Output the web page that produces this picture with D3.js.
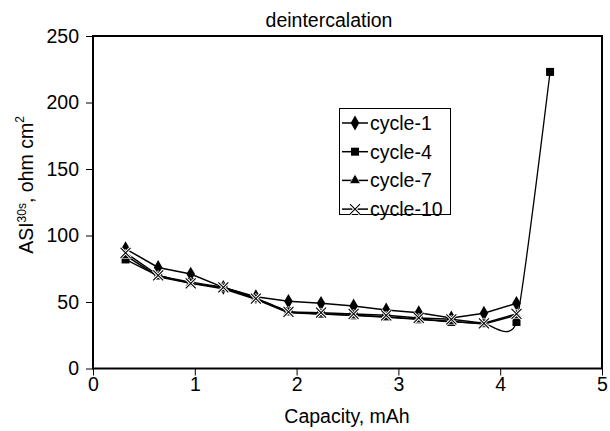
<!DOCTYPE html>
<html>
<head>
<meta charset="utf-8">
<script src="https://cdn.jsdelivr.net/npm/d3@7"></script>
<style>
body { margin: 0; background: #fff; }
text { font-family: Arial, "Liberation Sans", sans-serif; fill: #000; }
</style>
</head>
<body>
<div id="vis"></div>
<script>
var width = 610,
    height = 431;

// capacity (mAh) of each measurement
var capacity = [0.32, 0.64, 0.96, 1.28, 1.6, 1.92, 2.24, 2.56, 2.88, 3.2, 3.52, 3.84, 4.16];
var capacity4 = [0.32, 0.64, 0.96, 1.28, 1.6, 1.92, 2.24, 2.56, 2.88, 3.2, 3.52, 3.84, 4.16, 4.49];

// ASI values, ohm cm2
var cycle1 = [90, 76, 71, 61, 54, 50.5, 49, 47, 44, 42, 38, 41.5, 49];
var cycle4 = [82, 70, 65, 61, 53, 43, 41, 40, 39, 37, 35, 34, 35, 223];
var cycle7 = [85, 69, 64, 60, 52, 42, 41, 40, 38.5, 37, 35.5, 33.5, 40];
var cycle10 = [87, 70, 64, 61, 52.5, 42.5, 42, 41, 40, 38, 37, 34, 41];

var seriesNames = ["cycle-1", "cycle-4", "cycle-7", "cycle-10"];
var xTicks = [0, 1, 2, 3, 4, 5];
var yTicks = [0, 50, 100, 150, 200, 250];

var series = [
  {name: seriesNames[0], xs: capacity, ys: cycle1, marker: "diamond"},
  {name: seriesNames[1], xs: capacity4, ys: cycle4, marker: "square", smooth: true},
  {name: seriesNames[2], xs: capacity, ys: cycle7, marker: "triangle"},
  {name: seriesNames[3], xs: capacity, ys: cycle10, marker: "cross"}
];

var fs = 19.5;

var svg = d3.select("#vis").append("svg")
    .attr("width", width)
    .attr("height", height);

var x = d3.scaleLinear().domain([0, 5]).range([93, 602]);
var y = d3.scaleLinear().domain([0, 250]).range([368.5, 36]);

// axes
var yAxis = svg.append("g")
    .attr("transform", "translate(93,0)")
    .call(d3.axisLeft(y).tickValues(yTicks).tickFormat(d3.format("d"))
      .tickSize(7).tickSizeOuter(0).tickPadding(7));
var xAxis = svg.append("g")
    .attr("transform", "translate(0,368.5)")
    .call(d3.axisBottom(x).tickValues(xTicks).tickFormat(d3.format("d"))
      .tickSize(7).tickSizeOuter(0).tickPadding(2));

[xAxis, yAxis].forEach(function(a) {
  a.select(".domain").remove();
  a.selectAll("line").attr("stroke", "#000").attr("stroke-width", 1);
  a.selectAll("text").attr("font-size", fs).attr("font-family", "Arial, 'Liberation Sans', sans-serif").attr("fill", "#000");
});

// plot frame
svg.append("rect")
    .attr("x", 93).attr("y", 36)
    .attr("width", 509).attr("height", 332.5)
    .attr("fill", "none")
    .attr("stroke", "#000")
    .attr("stroke-width", 2);

svg.append("text")
    .attr("x", 329).attr("y", 27)
    .attr("text-anchor", "middle")
    .attr("font-size", fs)
    .text("deintercalation");

svg.append("text")
    .attr("x", 347).attr("y", 423)
    .attr("text-anchor", "middle")
    .attr("font-size", fs)
    .text("Capacity, mAh");

var ylab = svg.append("text")
    .attr("transform", "translate(33,185) rotate(-90)")
    .attr("text-anchor", "middle")
    .attr("font-size", fs);
ylab.append("tspan").text("ASI");
ylab.append("tspan").attr("font-size", 12).attr("dy", -7).text("30s");
ylab.append("tspan").attr("dy", 7).text(", ohm cm");
ylab.append("tspan").attr("font-size", 12).attr("dy", -9).text("2");

function drawMarker(g, type, cx, cy) {
  if (type == "diamond") {
    g.append("path").attr("d", d3.symbol(d3.symbolDiamond, 64)())
      .attr("transform", "translate(" + cx + "," + cy + ")").attr("fill", "#000");
  } else if (type == "square") {
    g.append("rect").attr("x", cx - 4).attr("y", cy - 4).attr("width", 8).attr("height", 8).attr("fill", "#000");
  } else if (type == "triangle") {
    g.append("path").attr("d", d3.symbol(d3.symbolTriangle, 50)())
      .attr("transform", "translate(" + cx + "," + cy + ")").attr("fill", "#000")
      .attr("stroke", "#fff").attr("stroke-width", 0.6);
  } else {
    var p = "M-5,-5L5,5M-5,5L5,-5";
    g.append("path").attr("d", p).attr("transform", "translate(" + cx + "," + cy + ")")
      .attr("stroke", "#fff").attr("stroke-width", 3).attr("fill", "none");
    g.append("path").attr("d", p).attr("transform", "translate(" + cx + "," + cy + ")")
      .attr("stroke", "#000").attr("stroke-width", 1.1).attr("fill", "none");
  }
}

series.forEach(function(s) {
  var pts = s.xs.map(function(v, i) { return [v, s.ys[i]]; });
  var line = d3.line()
      .x(function(d) { return x(d[0]); })
      .y(function(d) { return y(d[1]); })
      .curve(s.smooth ? d3.curveCardinal.tension(0.5) : d3.curveLinear);
  var g = svg.append("g");
  g.append("path")
      .attr("d", line(pts))
      .attr("fill", "none")
      .attr("stroke", "#000")
      .attr("stroke-width", s.smooth ? 1.3 : 1.5);
  pts.forEach(function(d) {
    drawMarker(g, s.marker, x(d[0]), y(d[1]));
  });
});

// legend
var legend = svg.append("g");
legend.append("rect")
    .attr("x", 339.5).attr("y", 108.5)
    .attr("width", 111).attr("height", 106)
    .attr("fill", "#fff")
    .attr("stroke", "#000")
    .attr("stroke-width", 1);
series.forEach(function(s, i) {
  var ly = 123 + i * 28.7;
  legend.append("line")
      .attr("x1", 342).attr("x2", 368)
      .attr("y1", ly).attr("y2", ly)
      .attr("stroke", "#000").attr("stroke-width", 1.5);
  drawMarker(legend, s.marker, 355, ly);
  legend.append("text")
      .attr("x", 370).attr("y", ly + 7)
      .attr("font-size", fs)
      .text(s.name);
});
</script>
</body>
</html>
